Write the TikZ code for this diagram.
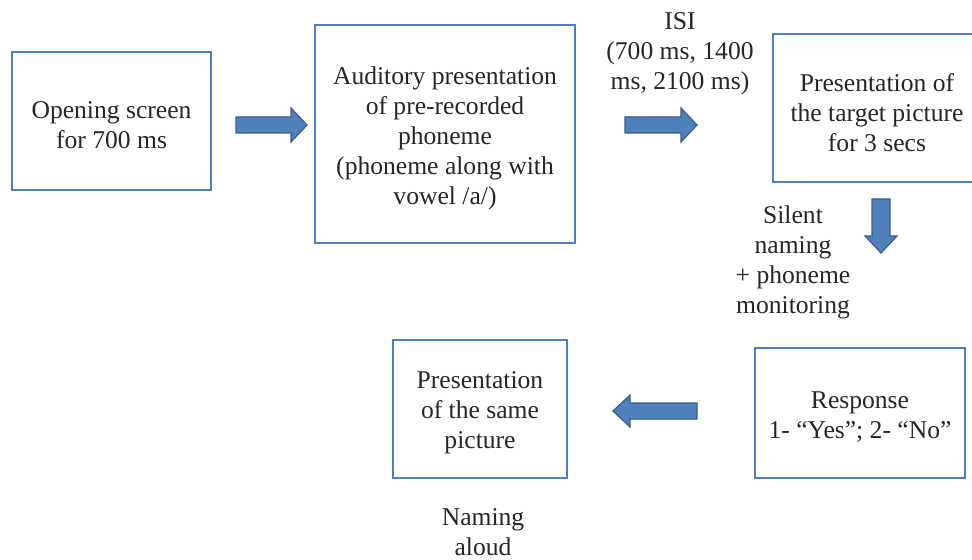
\documentclass[tikz,border=0pt]{standalone}
\usepackage{fontspec}
\setmainfont{Liberation Serif}
\begin{document}
\begin{tikzpicture}[x=1bp,y=-1bp,
  every node/.style={font=\fontsize{25.6bp}{30bp}\selectfont, text=black!85, align=center, inner sep=0pt},
  box/.style={draw=boxblue, line width=2bp, fill=white},
  txt/.style={yshift=-4bp},
  blk/.style={fill=arrfill, draw=arrline, line width=1.2bp, line join=miter}]
\definecolor{boxblue}{RGB}{79,126,186}
\definecolor{arrfill}{RGB}{79,129,189}
\definecolor{arrline}{RGB}{56,93,138}
\useasboundingbox (0,0) rectangle (972,560);
\clip (0,0) rectangle (972,560);
\fill[white] (0,0) rectangle (972,560);

\node[box, minimum width=199bp, minimum height=138bp] (open) at (111.5,121) {};
\node[box, minimum width=260bp, minimum height=218bp] (audi) at (445,134) {};
\node[box, minimum width=208bp, minimum height=148bp] (targ) at (877,108.5) {};
\node[box, minimum width=210bp, minimum height=130bp] (resp) at (860,413) {};
\node[box, minimum width=174bp, minimum height=138bp] (same) at (480,409) {};

\node[txt] (open-t) at (open) {Opening screen\\for 700 ms};
\node[txt] (audi-t) at (audi) {Auditory presentation\\of pre-recorded\\phoneme\\(phoneme along with\\vowel /a/)};
\node[txt] (targ-t) at (targ) {Presentation of\\the target picture\\for 3 secs};
\node[txt] (resp-t) at (resp) {Response\\1- “Yes”; 2- “No”};
\node[txt] (same-t) at (same) {Presentation\\of the same\\picture};

\node[txt] (isi) at (680,50) {ISI\\(700 ms, 1400\\ms, 2100 ms)};
\node[txt] (silent) at (793,258) {Silent\\naming\\+ phoneme\\monitoring};
\node[txt] (aloud) at (483,528) {Naming\\aloud};

% block arrows
\draw[blk] (236,117) -- (291,117) -- (291,108) -- (307,125) -- (291,142) -- (291,133) -- (236,133) -- cycle;
\draw[blk] (625,117) -- (681,117) -- (681,108) -- (697,125) -- (681,142) -- (681,133) -- (625,133) -- cycle;
\draw[blk] (872,199) -- (872,236) -- (865,236) -- (881,253) -- (897,236) -- (890,236) -- (890,199) -- cycle;
\draw[blk] (697,403) -- (630,403) -- (630,395) -- (613,411) -- (630,427) -- (630,419) -- (697,419) -- cycle;
\end{tikzpicture}
\end{document}
